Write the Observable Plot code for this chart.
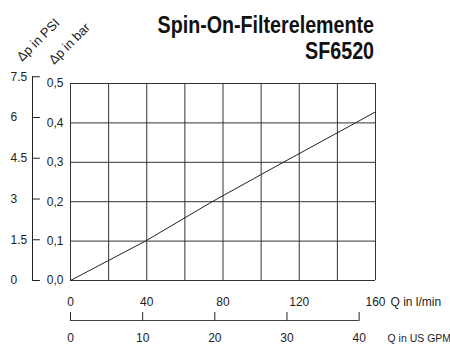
<!DOCTYPE html>
<html>
<head>
<meta charset="utf-8">
<script src="https://cdn.jsdelivr.net/npm/d3@7"></script>
<script src="https://cdn.jsdelivr.net/npm/@observablehq/plot@0.6"></script>
<style>
  html, body { margin: 0; padding: 0; background: #fff; }
  #wrap { position: relative; width: 450px; height: 347px; overflow: hidden; }
  #title {
    position: absolute; right: 76px; top: 12px; text-align: right;
    font-family: "Liberation Sans", Arial, sans-serif;
    font-weight: bold; font-size: 24px; line-height: 26px; color: #111;
    transform: scaleX(0.82); transform-origin: right top; white-space: nowrap;
  }
  #chart { position: absolute; left: 0; top: 0; }
</style>
</head>
<body>
<div id="wrap">
  <div id="chart"></div>
  <div id="title">Spin-On-Filterelemente<br>SF6520</div>
</div>
<script>
// ---- data ----
const flowLmin = [0, 39.3, 74.3, 111.6, 149.5, 160];
const dpBar    = [0, 0.1, 0.2, 0.3, 0.4, 0.428];
const lminTicks = [0, 40, 80, 120, 160];
const gpmTicks  = [0, 10, 20, 30, 40];
const barTicks  = [0, 0.1, 0.2, 0.3, 0.4, 0.5];
const psiTicks  = [0, 1.5, 3, 4.5, 6, 7.5];
const xGrid     = [0, 20, 40, 60, 80, 100, 120, 140, 160];
const xTitle1 = "Q in l/min";
const xTitle2 = "Q in US GPM";
const yTitle1 = "Δp in PSI";
const yTitle2 = "Δp in bar";

const PSI_PER_BAR = 14.5038;
const LMIN_PER_GPM = 3.78541;

const curve = flowLmin.map((q, i) => ({q, dp: dpBar[i]}));
const tickShape = {draw(ctx, l) { ctx.moveTo(0, 0); ctx.lineTo(0, -l); }};
const FONT = '"Liberation Sans", Arial, sans-serif';

const chart = Plot.plot({
  width: 450,
  height: 347,
  marginLeft: 70,
  marginRight: 75,
  marginTop: 83,
  marginBottom: 67,
  style: {fontFamily: FONT, fontSize: "12px", color: "#222", background: "transparent", overflow: "visible"},
  x: {domain: [0, 160], axis: null},
  y: {domain: [0, 0.5], axis: null},
  marks: [
    Plot.ruleY(barTicks, {stroke: "#333", strokeWidth: 1}),
    Plot.ruleX(xGrid, {stroke: "#333", strokeWidth: 1}),
    Plot.line(curve, {x: "q", y: "dp", stroke: "#222", strokeWidth: 1}),
    // bar axis labels
    Plot.axisY(barTicks, {anchor: "left", tickSize: 0, tickPadding: 7, label: null,
      tickFormat: d => d.toFixed(1).replace(".", ","), fontSize: 12, fill: "#222"}),
    // PSI axis
    Plot.ruleX([0], {y1: 0, y2: psiTicks[psiTicks.length - 1] / PSI_PER_BAR, dx: -38, stroke: "#222"}),
    Plot.vector(psiTicks, {x: 0, y: d => d / PSI_PER_BAR, length: 7, rotate: 90, anchor: "start",
      shape: tickShape, dx: -38, stroke: "#222", strokeWidth: 1}),
    Plot.text(psiTicks, {y: d => d / PSI_PER_BAR, text: d => String(d), frameAnchor: "left",
      textAnchor: "start", dx: -60, fill: "#222"}),
    // l/min labels
    Plot.text(lminTicks, {x: d => d, text: d => String(d), frameAnchor: "bottom", dy: 25, fill: "#222"}),
    Plot.text([xTitle1], {frameAnchor: "bottom-right", textAnchor: "start", dx: 15, dy: 25, fill: "#222"}),
    // GPM axis
    Plot.ruleY([0], {x1: 0, x2: gpmTicks[gpmTicks.length - 1] * LMIN_PER_GPM, dy: 40, stroke: "#444"}),
    Plot.vector(gpmTicks, {x: d => d * LMIN_PER_GPM, y: 0, length: 8, rotate: 0, anchor: "start",
      shape: tickShape, dy: 40, stroke: "#222", strokeWidth: 1}),
    Plot.text(gpmTicks, {x: d => d * LMIN_PER_GPM, text: d => String(d), frameAnchor: "bottom", dy: 61, fill: "#222"}),
    Plot.text([xTitle2], {frameAnchor: "bottom-right", textAnchor: "start", dx: 12, dy: 61, fontSize: 10.5, fill: "#222"}),
    // rotated y titles
    Plot.text([yTitle1], {frameAnchor: "top-left", textAnchor: "start", rotate: -45, dx: -55, dy: -28, fontSize: 13, fill: "#222"}),
    Plot.text([yTitle2], {frameAnchor: "top-left", textAnchor: "start", rotate: -45, dx: -23, dy: -25, fontSize: 13, fill: "#222"})
  ]
});
document.getElementById("chart").appendChild(chart);
</script>
</body>
</html>
